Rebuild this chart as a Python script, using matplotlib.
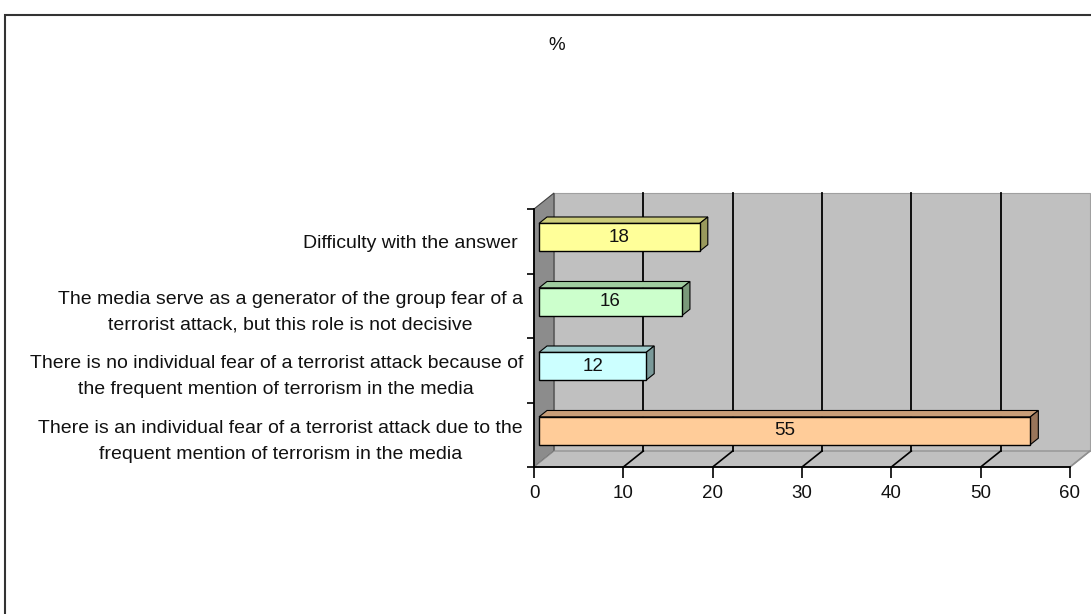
import matplotlib.pyplot as plt
from matplotlib.patches import Polygon, Rectangle
from matplotlib.transforms import IdentityTransform, offset_copy

plt.rcParams['font.family'] = ['Liberation Sans', 'DejaVu Sans']

# bottom to top, as on the chart
categories = [
    "There is an individual fear of a terrorist attack due to the\nfrequent mention of terrorism in the media",
    "There is no individual fear of a terrorist attack because of\nthe frequent mention of terrorism in the media",
    "The media serve as a generator of the group fear of a\nterrorist attack, but this role is not decisive",
    "Difficulty with the answer ",
]
values = [55, 12, 16, 18]
front_colors = ['#FFCC99', '#CCFFFF', '#CCFFCC', '#FFFF99']
top_colors = ['#C89E78', '#A0CCCC', '#A0CCA0', '#CCCC7A']
side_colors = ['#99755A', '#7A9999', '#7A997A', '#99995C']
x_ticks = [0, 10, 20, 30, 40, 50, 60]

W, H = 1091, 614
fig = plt.figure(figsize=(W / 100, H / 100), dpi=100)
fig.patch.set_facecolor('white')
ax = fig.add_axes([534 / W, (H - 467) / H, 536 / W, 258 / H])
ax.set_xlim(0, 60)
ax.set_ylim(-0.5, len(categories) - 0.5)
ax.set_autoscale_on(False)
ax.patch.set_visible(False)

DX, DY = 20, 16  # depth of the 3d box in pixels
ID = IdentityTransform()
TXT = '#111111'


def pt(v, c, d):
    x, y = ax.transData.transform((v, c))
    return (x + d * DX, y + d * DY)


def face(points, fc, ec, lw=0.8, z=1.0):
    ax.add_patch(Polygon(points, closed=True, facecolor=fc, edgecolor=ec,
                         lw=lw, transform=ID, clip_on=False, zorder=z))


def line(p0, p1, color='black', lw=1.2, z=0.8):
    ax.plot([p0[0], p1[0]], [p0[1], p1[1]], color=color, lw=lw,
            transform=ID, clip_on=False, zorder=z)


lo, hi = -0.5, len(categories) - 0.5
xmax = x_ticks[-1]

# walls and floor
face([pt(0, lo, 1), pt(xmax, lo, 1), pt(xmax, hi, 1), pt(0, hi, 1)],
     '#C0C0C0', '#A0A0A0', z=0.5)
face([pt(0, lo, 0), pt(0, lo, 1), pt(0, hi, 1), pt(0, hi, 0)],
     '#8C8C8C', '#404040', z=0.6)
face([pt(0, lo, 0), pt(xmax, lo, 0), pt(xmax, lo, 1), pt(0, lo, 1)],
     '#C0C0C0', '#8A8A8A', z=0.6)

for xt in x_ticks[1:-1]:
    line(pt(xt, lo, 1), pt(xt, hi, 1), lw=1.3, z=0.7)
for xt in x_ticks[1:]:
    c = '#909090' if xt == xmax else 'black'
    line(pt(xt, lo, 0), pt(xt, lo, 1), color=c, lw=1.2, z=0.7)

# bars
d0, d1, h = 0.25, 0.65, 0.215
lbl_tr = offset_copy(ax.transData, fig=fig, x=d0 * DX, y=d0 * DY, units='dots')
for i, v in enumerate(values):
    face([pt(0, i - h, d0), pt(v, i - h, d0), pt(v, i + h, d0), pt(0, i + h, d0)],
         front_colors[i], 'black', lw=1.0, z=1.2)
    face([pt(0, i + h, d0), pt(v, i + h, d0), pt(v, i + h, d1), pt(0, i + h, d1)],
         top_colors[i], 'black', lw=0.8, z=1.1)
    face([pt(v, i - h, d0), pt(v, i - h, d1), pt(v, i + h, d1), pt(v, i + h, d0)],
         side_colors[i], 'black', lw=0.8, z=1.1)
    ax.text(v / 2, i, str(v), transform=lbl_tr, ha='center', va='center',
            fontsize=13.5, color=TXT, zorder=3)

# axes
for s in ['top', 'right']:
    ax.spines[s].set_visible(False)
for s in ['left', 'bottom']:
    ax.spines[s].set_linewidth(1.3)
ax.set_xticks(x_ticks)
ax.tick_params(axis='x', direction='out', length=8, width=1.2, pad=5,
               labelsize=13.5, labelcolor=TXT)
ax.set_yticks(range(len(categories)))
ax.set_yticklabels(categories)
ax.set_yticks([k - 0.5 for k in range(len(categories) + 1)], minor=True)
ax.tick_params(axis='y', which='major', length=0, pad=8, labelsize=14,
               labelcolor=TXT)
ax.tick_params(axis='y', which='minor', direction='out', length=5, width=1.2)
for t in ax.get_yticklabels():
    t.set_multialignment('center')
    t.set_linespacing(1.7)

fig.text(557 / W, 1 - 46 / H, '%', ha='center', va='center', fontsize=13.5,
         color=TXT)

# outer chart frame
fig.add_artist(Rectangle((5, -20), 1300, H - 15 + 20, fill=False,
                         edgecolor='#333333', lw=1.5, transform=ID))

fig.savefig('out.png', dpi=100)
